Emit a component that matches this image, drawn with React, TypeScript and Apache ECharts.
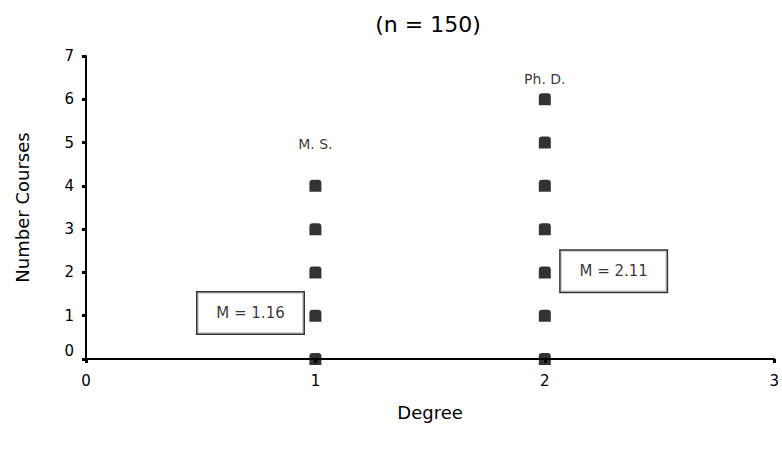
import React, { useEffect, useRef } from "react";
import * as echarts from "echarts";

// ---- data ----
const xTicks = [0, 1, 2, 3];
const yTicks = [0, 1, 2, 3, 4, 5, 6, 7];
const msDegree = 1;
const msCourses = [0, 1, 2, 3, 4];
const phdDegree = 2;
const phdCourses = [0, 1, 2, 3, 4, 5, 6];
const groupLabels = ["M. S.", "Ph. D."];
const groupLabelPos: [number, number][] = [
  [1, 4.97],
  [2, 6.47],
];
const meanLabels = ["M = 1.16", "M = 2.11"];
const meanLabelPos: [number, number][] = [
  [0.717, 1.06],
  [2.3, 2.03],
];
const titleText = "(n = 150)";
const xName = "Degree";
const yName = "Number Courses";

const FONT = "'DejaVu Sans', 'Liberation Sans', Arial, sans-serif";
const dotSymbol =
  "path://M0,3 Q0,0 3,0 L8,0 Q11,0 11,3 L11,11 L0,11 Z";

export default function App() {
  const ref = useRef<HTMLDivElement>(null);
  useEffect(() => {
    document.body.style.margin = "0";
    if (!ref.current) return;
    const chart = echarts.init(ref.current, undefined, { renderer: "svg" });
    const points = [
      ...msCourses.map((c) => [msDegree, c]),
      ...phdCourses.map((c) => [phdDegree, c]),
    ];
    chart.setOption({
      animation: false,
      backgroundColor: "#ffffff",
      textStyle: { fontFamily: FONT },
      graphic: [
        {
          type: "text",
          x: 428,
          y: 24,
          style: {
            text: titleText,
            font: `22px ${FONT}`,
            fill: "#000",
            textAlign: "center",
            textVerticalAlign: "middle",
          },
        },
      ],
      grid: { left: 86, right: 7, top: 56, bottom: 100, containLabel: false },
      xAxis: {
        type: "value",
        min: 0,
        max: 3,
        interval: 1,
        name: xName,
        nameLocation: "middle",
        nameGap: 44,
        nameTextStyle: { fontSize: 18, color: "#000", fontFamily: FONT },
        axisLine: { lineStyle: { color: "#000", width: 2 } },
        axisTick: { show: true, length: 4, lineStyle: { color: "#000", width: 3 } },
        axisLabel: { fontSize: 15, color: "#000", margin: 14, fontFamily: FONT },
        splitLine: { show: false },
        data: xTicks,
      },
      yAxis: {
        type: "value",
        min: 0,
        max: 7,
        interval: 1,
        name: yName,
        nameLocation: "middle",
        nameGap: 55,
        nameTextStyle: { fontSize: 18, color: "#000", fontFamily: FONT },
        axisLine: { show: true, lineStyle: { color: "#000", width: 2 } },
        axisTick: { show: true, length: 4, lineStyle: { color: "#000", width: 3 } },
        axisLabel: {
          fontSize: 15,
          color: "#000",
          margin: 12,
          fontFamily: FONT,
          formatter: (v: number) => (v === 0 ? "{z|0}" : String(v)),
          rich: { z: { fontSize: 15, color: "#000", padding: [0, 0, 16, 0], fontFamily: FONT } },
        },
        splitLine: { show: false },
        data: yTicks,
      },
      series: [
        {
          type: "scatter",
          data: points,
          symbol: dotSymbol,
          symbolSize: 12,
          itemStyle: { color: "#000" },
          z: 5,
        },
        {
          type: "scatter",
          data: groupLabelPos.map((p, i) => ({ value: p, name: groupLabels[i] })),
          symbolSize: 0,
          silent: true,
          label: {
            show: true,
            position: "inside",
            formatter: (p: any) => p.name,
            fontSize: 14,
            color: "#000",
            fontFamily: FONT,
          },
        },
        {
          type: "scatter",
          data: meanLabelPos.map((p, i) => ({ value: p, name: meanLabels[i] })),
          symbolSize: 0,
          silent: true,
          label: {
            show: true,
            position: "inside",
            formatter: (p: any) => p.name,
            fontSize: 15,
            lineHeight: 17,
            color: "#000",
            fontFamily: FONT,
            backgroundColor: "#fff",
            borderColor: "#000",
            borderWidth: 1.5,
            padding: [12, 10, 12, 10],
            width: 86,
            align: "center",
          },
        },
      ],
    });
    return () => chart.dispose();
  }, []);
  return <div ref={ref} style={{ width: 782, height: 459 }} />;
}
